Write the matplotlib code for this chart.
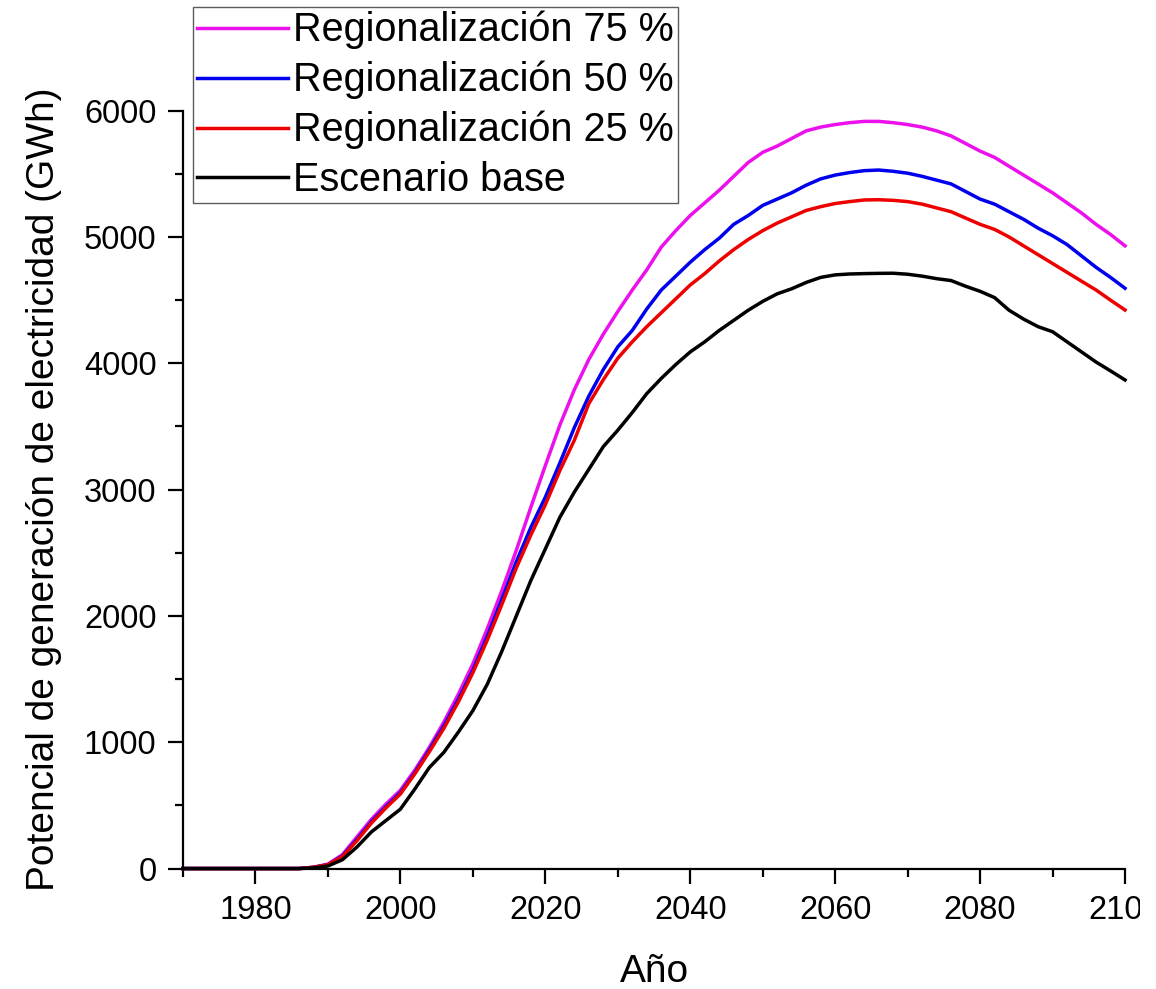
import matplotlib
matplotlib.use("Agg")
import matplotlib.pyplot as plt
from matplotlib.ticker import MultipleLocator
from matplotlib.transforms import Bbox, TransformedBbox

plt.rcParams['font.family'] = ['Liberation Sans', 'DejaVu Sans']

# Years (every two years) and generation potential per scenario (GWh)
years = list(range(1970, 2101, 2))

reg75 = [0, 0, 0, 0, 0, 0, 0, 0, 0, 10, 35, 110, 250, 390, 510, 620, 780, 960,
         1160, 1380, 1620, 1900, 2200, 2520, 2860, 3190, 3510, 3790, 4030, 4230,
         4410, 4580, 4740, 4920, 5050, 5170, 5270, 5370, 5480, 5590, 5670, 5720,
         5780, 5840, 5870, 5890, 5905, 5915, 5915, 5905, 5890, 5870, 5840, 5800,
         5740, 5680, 5630, 5560, 5490, 5420, 5350, 5270, 5190, 5100, 5020, 4930]

reg50 = [0, 0, 0, 0, 0, 0, 0, 0, 0, 10, 30, 100, 230, 370, 490, 600, 760, 940,
         1130, 1340, 1570, 1840, 2130, 2430, 2700, 2940, 3210, 3490, 3740, 3950,
         4130, 4260, 4430, 4580, 4690, 4800, 4900, 4990, 5100, 5170, 5250, 5300,
         5350, 5410, 5460, 5490, 5510, 5525, 5530, 5520, 5505, 5480, 5450, 5420,
         5360, 5300, 5260, 5200, 5140, 5070, 5010, 4940, 4850, 4760, 4680, 4594]

reg25 = [0, 0, 0, 0, 0, 0, 0, 0, 0, 10, 30, 95, 220, 360, 480, 590, 750, 925,
         1110, 1320, 1550, 1810, 2090, 2380, 2640, 2880, 3150, 3390, 3680, 3870,
         4040, 4170, 4290, 4400, 4510, 4620, 4710, 4810, 4900, 4980, 5050, 5110,
         5160, 5210, 5240, 5265, 5280, 5293, 5295, 5290, 5280, 5260, 5230, 5200,
         5150, 5100, 5060, 5000, 4930, 4860, 4790, 4720, 4650, 4580, 4500, 4422]

base = [0, 0, 0, 0, 0, 0, 0, 0, 0, 5, 20, 70, 170, 290, 380, 470, 630, 800,
        920, 1080, 1250, 1460, 1720, 2000, 2280, 2530, 2780, 2980, 3160, 3340,
        3470, 3610, 3760, 3880, 3990, 4090, 4170, 4260, 4340, 4420, 4490, 4550,
        4590, 4640, 4680, 4700, 4707, 4710, 4712, 4713, 4705, 4690, 4670, 4655,
        4610, 4570, 4520, 4420, 4350, 4290, 4250, 4170, 4090, 4010, 3940, 3868]

series = [
    ("Regionalización 75 %", reg75, "#ec10ec"),
    ("Regionalización 50 %", reg50, "#0000ee"),
    ("Regionalización 25 %", reg25, "#ee0000"),
    ("Escenario base", base, "#000000"),
]

fig = plt.figure(figsize=(11.56, 9.89), dpi=100)
ax = fig.add_axes([0.1583, 0.1218, 0.9732 - 0.1583, 0.8881 - 0.1218])

for label, values, color in series:
    ax.plot(years, values, color=color, lw=2.5, label=label, clip_on=False)

ax.set_xlim(1970, 2100)
ax.set_ylim(0, 6000)
ax.xaxis.set_major_locator(MultipleLocator(20))
ax.xaxis.set_minor_locator(MultipleLocator(10))
ax.yaxis.set_major_locator(MultipleLocator(1000))
ax.yaxis.set_minor_locator(MultipleLocator(500))

for side in ("top", "right"):
    ax.spines[side].set_visible(False)
for side in ("left", "bottom"):
    ax.spines[side].set_linewidth(1.6)

ax.tick_params(which="major", direction="out", length=11, width=1.6,
               labelsize=23.5, pad=8)
ax.tick_params(which="minor", direction="out", length=5.5, width=1.6)

ax.set_xlabel("Año", fontsize=28)
ax.set_ylabel("Potencial de generación de electricidad (GWh)", fontsize=28)
ax.xaxis.set_label_coords(0.5, -0.113)
ax.yaxis.set_label_coords(-0.128, 0.5)

# The right-most year label runs past the frame; cut it at the figure margin
fig.canvas.draw()
clip = TransformedBbox(Bbox([[0, 0], [1140 / 1156, 1]]), fig.transFigure)
for lbl in ax.get_xticklabels():
    lbl.set_clip_box(clip)
    lbl.set_clip_on(True)

leg = fig.legend(loc="upper left", bbox_to_anchor=(193 / 1156, 1 - 7 / 989),
                 fontsize=28.5, frameon=True, fancybox=False, shadow=False,
                 handlelength=2.3, handletextpad=0.13, labelspacing=0.29,
                 borderpad=0.1, borderaxespad=0)
leg.get_frame().set_edgecolor("#333333")
leg.get_frame().set_linewidth(1.0)
for h in leg.get_lines():
    h.set_linewidth(2.5)

fig.savefig("out.png", dpi=100)
